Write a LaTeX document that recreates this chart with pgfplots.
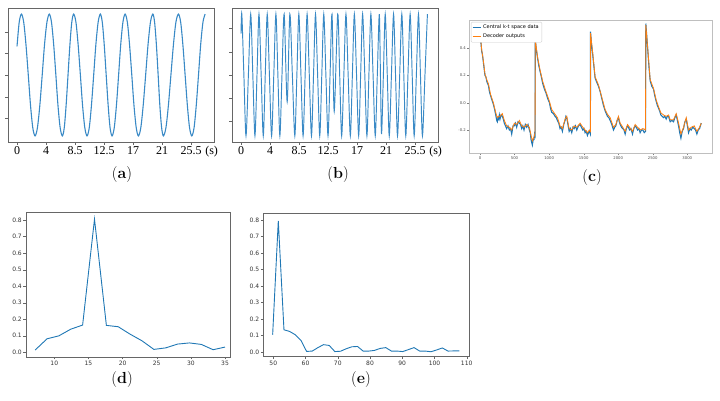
\documentclass[border=0pt]{standalone}
\usepackage{pgfplots}
\pgfplotsset{compat=1.18}
\usepackage{fontspec}
\newfontfamily\timesf{Liberation Serif}
\newfontfamily\dejavu{DejaVu Sans}
\definecolor{mplblue}{HTML}{1F77B4}
\definecolor{waveblue}{HTML}{3A8AC6}
\definecolor{mplorange}{HTML}{FF7F0E}
\newcommand\tl[1]{\mbox{\timesf\fontsize{12}{14}\selectfont #1}}

\pgfplotsset{
  panel/.style={scale only axis, anchor=south west, tick align=outside, tick pos=left,
    axis line style={black!60}, every tick/.append style={black!60},
    /pgf/number format/assume math mode=true},
  wave/.style={panel, width=206pt, height=134pt,
    xmin=-1.32, xmax=28.85, ymin=-1.1, ymax=1.1,
    xtick={0,4.25,8.5,12.75,17,21.25,25.5},
    xticklabels={\tl{0},\tl{4},\tl{8.5},\tl{12.5},\tl{17},\tl{21},\tl{25.5}},
    extra x ticks={28.5}, extra x tick labels={\tl{(s)}},
    extra x tick style={major tick length=0pt, xticklabel style={yshift=-3pt}},
    yticklabels={}, major tick length=3pt,
    xticklabel style={anchor=base, yshift=-9.5pt, inner sep=0pt}},
  spec/.style={panel, width=205pt, height=144pt, ymin=-0.028, ymax=0.844,
    ytick={0,0.1,0.2,0.3,0.4,0.5,0.6,0.7,0.8}, major tick length=2.5pt,
    tick label style={font=\dejavu\fontsize{6}{7}\selectfont, black!80, inner sep=1.5pt},
    yticklabel style={/pgf/number format/.cd, fixed, fixed zerofill, precision=1}},
}

\begin{document}
\begin{tikzpicture}
\useasboundingbox (0,0) rectangle (720pt,401pt);

% (a) slow wave
\begin{axis}[wave, at={(8pt,259pt)}, ytick={-0.71,-0.36,0,0.36,0.71}]
\addplot[waveblue, line width=1.1pt, smooth] coordinates {
 (0,0.47) (0.32,0.866) (0.65,1)
 (0.98,0.866) (1.31,0.5) (1.65,0) (1.98,-0.5) (2.31,-0.866) (2.64,-1)
 (2.99,-0.866) (3.34,-0.5) (3.69,0) (4.03,0.5) (4.38,0.866) (4.73,1)
 (5.05,0.866) (5.37,0.5) (5.69,0) (6.00,-0.5) (6.32,-0.866) (6.64,-1)
 (6.92,-0.866) (7.19,-0.5) (7.47,0) (7.75,0.5) (8.02,0.866) (8.30,1)
 (8.63,0.866) (8.95,0.5) (9.28,0) (9.60,-0.5) (9.93,-0.866) (10.25,-1)
 (10.58,-0.866) (10.90,-0.5) (11.23,0) (11.55,0.5) (11.88,0.866) (12.20,1)
 (12.49,0.866) (12.77,0.5) (13.06,0) (13.35,-0.5) (13.63,-0.866) (13.92,-1)
 (14.24,-0.866) (14.56,-0.5) (14.88,0) (15.19,0.5) (15.51,0.866) (15.83,1)
 (16.16,0.866) (16.48,0.5) (16.81,0) (17.13,-0.5) (17.46,-0.866) (17.78,-1)
 (18.13,-0.866) (18.48,-0.5) (18.84,0) (19.19,0.5) (19.54,0.866) (19.89,1)
 (20.15,0.866) (20.41,0.5) (20.67,0) (20.92,-0.5) (21.18,-0.866) (21.44,-1)
 (21.81,-0.866) (22.17,-0.5) (22.54,0) (22.91,0.5) (23.27,0.866) (23.64,1)
 (23.97,0.866) (24.29,0.5) (24.62,0) (24.95,-0.5) (25.27,-0.866) (25.60,-1)
 (25.93,-0.866) (26.25,-0.5) (26.58,0) (26.90,0.5) (27.23,0.866) (27.55,1)
};
\end{axis}

% (b) fast wave
\begin{axis}[wave, at={(232pt,259pt)}, ytick={-0.765,-0.383,0,0.383,0.765}]
\addplot[waveblue, line width=0.95pt, smooth] coordinates {
 (0,0.68) (0.12,1) (0.42,0) (0.73,-1) (1.08,0) (1.42,1) (1.73,0) (2.04,-1)
 (2.34,0) (2.63,1) (2.95,0) (3.26,-1) (3.55,0) (3.84,1) (4.16,0) (4.48,-1)
 (4.8,0) (5.11,1) (5.4,0) (5.69,-1) (6.0,0) (6.32,1) (6.76,-0.44) (7.15,1)
 (7.52,0) (7.88,-1) (8.18,0) (8.47,1) (8.78,0) (9.09,-1) (9.39,0) (9.68,1)
 (10.0,0) (10.32,-1) (10.62,0) (10.91,1) (11.22,0) (11.53,-1) (11.83,0) (12.12,1)
 (12.43,0) (12.74,-1) (13.04,0) (13.33,1) (13.65,-0.6) (14.16,1) (14.45,0) (14.74,-1)
 (15.06,0) (15.37,1) (15.69,0) (16.01,-1) (16.31,0) (16.6,1) (16.92,0) (17.23,-1)
 (17.52,0) (17.81,1) (18.13,0) (18.44,-1) (18.73,0) (19.02,1) (19.34,0) (19.66,-1)
 (19.96,0) (20.25,1) (20.42,0) (20.58,-0.97) (20.85,0) (21.12,1) (21.42,0) (21.71,-1)
 (22.03,0) (22.34,1) (22.63,0) (22.92,-1) (23.24,0) (23.55,1) (23.84,0) (24.13,-1)
 (24.45,0) (24.77,1) (25.07,0) (25.36,-1) (25.68,0) (25.99,1) (26.28,0) (26.57,-1)
 (26.94,0) (27.3,1)
};
\end{axis}

% (c) k-t space vs decoder
\begin{axis}[panel, at={(469pt,247.7pt)}, width=243pt, height=133.3pt,
  xmin=-159, xmax=3358, ymin=-0.371, ymax=0.606,
  xtick={0,500,1000,1500,2000,2500,3000}, ytick={-0.2,0,0.2,0.4},
  axis line style={black!25}, every tick/.append style={black!50}, major tick length=2pt,
  tick label style={font=\dejavu\fontsize{3.8}{4.2}\selectfont, black!70, inner sep=1pt},
  xticklabel style={/pgf/number format/1000 sep={}},
  yticklabel style={/pgf/number format/.cd, fixed, fixed zerofill, precision=1},
  legend style={at={(0.008,0.985)}, anchor=north west, draw=black!20, rounded corners=1pt,
    font=\dejavu\fontsize{5}{5.8}\selectfont, inner sep=1pt, row sep=-0.5pt},
  legend cell align=left,
  legend image code/.code={\draw[#1] (0pt,0pt) -- (8pt,0pt);}]
\addplot[mplblue, line width=1.1pt] coordinates {
 (0,0.53) (12,0.45) (24,0.38) (36,0.35) (48,0.30) (60,0.25) (72,0.20) (85,0.19) (97,0.16)
 (109,0.14) (121,0.13) (137,0.08) (154,0.05) (173,0.02) (193,-0.01) (212,-0.05) (232,-0.10)
 (242,-0.13) (251,-0.14) (260,-0.11) (270,-0.12) (280,-0.09) (290,-0.12) (305,-0.09) (323,-0.10)
 (338,-0.12) (352,-0.15) (369,-0.17) (386,-0.19) (405,-0.17) (425,-0.20) (442,-0.19) (459,-0.23)
 (478,-0.17) (497,-0.17) (514,-0.15) (531,-0.18) (550,-0.14) (570,-0.15) (587,-0.16) (604,-0.19)
 (620,-0.17) (637,-0.20) (656,-0.16) (676,-0.18) (695,-0.16) (715,-0.20) (728,-0.22) (739,-0.27)
 (748,-0.29) (758,-0.31) (770,-0.27) (782,-0.27) (790,-0.23) (797,-0.24) (800,0.47)
 (812,0.40) (835,0.32) (852,0.27) (869,0.23) (888,0.19) (908,0.14) (932,0.10) (956,0.07)
 (980,0.03) (1005,0.0) (1020,-0.04) (1038,-0.07) (1062,-0.08) (1087,-0.10) (1104,-0.11)
 (1121,-0.13) (1140,-0.15) (1159,-0.19) (1176,-0.18) (1193,-0.21) (1212,-0.16) (1232,-0.13)
 (1244,-0.10) (1256,-0.11) (1273,-0.16) (1290,-0.21) (1309,-0.19) (1328,-0.22) (1345,-0.18)
 (1362,-0.19) (1381,-0.17) (1401,-0.20) (1425,-0.17) (1449,-0.16) (1468,-0.18) (1488,-0.20)
 (1505,-0.19) (1521,-0.22) (1538,-0.21) (1555,-0.24) (1570,-0.22) (1584,-0.21) (1598,-0.23) (1600,0.52)
 (1612,0.44) (1632,0.35) (1650,0.26) (1666,0.18) (1690,0.15) (1715,0.12) (1740,0.08) (1763,0.03)
 (1787,-0.02) (1811,-0.06) (1828,-0.08) (1845,-0.10) (1865,-0.11) (1884,-0.13) (1908,-0.16)
 (1932,-0.20) (1950,-0.18) (1966,-0.17) (1985,-0.13) (2004,-0.11) (2016,-0.14) (2029,-0.16)
 (2048,-0.18) (2067,-0.19) (2084,-0.20) (2101,-0.23) (2118,-0.19) (2135,-0.17) (2150,-0.18)
 (2164,-0.20) (2185,-0.19) (2207,-0.23) (2226,-0.19) (2246,-0.17) (2263,-0.18) (2280,-0.20)
 (2300,-0.19) (2318,-0.22) (2338,-0.20) (2357,-0.20) (2377,-0.22) (2396,-0.21) (2400,0.58)
 (2412,0.50) (2429,0.38) (2446,0.26) (2463,0.16) (2487,0.12) (2511,0.10) (2530,0.05) (2550,0.01)
 (2567,-0.02) (2584,-0.04) (2600,-0.06) (2618,-0.09) (2637,-0.10) (2656,-0.11) (2675,-0.10)
 (2695,-0.12) (2712,-0.10) (2729,-0.10) (2741,-0.12) (2753,-0.14) (2777,-0.13) (2801,-0.14)
 (2820,-0.11) (2840,-0.09) (2857,-0.13) (2874,-0.17) (2891,-0.22) (2908,-0.26) (2927,-0.21)
 (2946,-0.19) (2965,-0.14) (2985,-0.12) (3002,-0.17) (3019,-0.22) (3038,-0.19) (3057,-0.20)
 (3079,-0.18) (3101,-0.19) (3120,-0.20) (3139,-0.23) (3158,-0.20) (3178,-0.19) (3190,-0.17) (3202,-0.15)
};
\addlegendentry{Central k-t space data}
\addplot[mplorange, line width=0.8pt] coordinates {
 (0,0.52) (24,0.39) (48,0.31) (72,0.21) (97,0.17) (121,0.14) (154,0.06) (193,0.0) (232,-0.08)
 (251,-0.11) (270,-0.10) (290,-0.10) (323,-0.08) (352,-0.13) (386,-0.17) (425,-0.18) (459,-0.20)
 (497,-0.15) (531,-0.16) (570,-0.13) (604,-0.17) (637,-0.18) (676,-0.16) (715,-0.18) (739,-0.24)
 (758,-0.28) (782,-0.25) (797,-0.22) (800,0.46)
 (835,0.33) (869,0.24) (908,0.155) (956,0.08) (1005,0.01) (1038,-0.05) (1087,-0.085) (1121,-0.11)
 (1159,-0.17) (1193,-0.19) (1232,-0.12) (1256,-0.10) (1290,-0.19) (1328,-0.20) (1362,-0.17)
 (1401,-0.18) (1449,-0.15) (1488,-0.18) (1521,-0.20) (1555,-0.22) (1584,-0.20) (1598,-0.21) (1600,0.51)
 (1632,0.36) (1666,0.19) (1715,0.13) (1763,0.04) (1811,-0.05) (1845,-0.085) (1884,-0.11) (1932,-0.18)
 (1966,-0.16) (2004,-0.10) (2029,-0.15) (2067,-0.18) (2101,-0.21) (2135,-0.16) (2164,-0.18)
 (2207,-0.21) (2246,-0.16) (2280,-0.18) (2318,-0.20) (2357,-0.19) (2396,-0.20) (2400,0.57)
 (2429,0.39) (2463,0.17) (2511,0.105) (2550,0.02) (2584,-0.03) (2618,-0.075) (2656,-0.09)
 (2695,-0.10) (2729,-0.09) (2753,-0.125) (2801,-0.125) (2840,-0.08) (2874,-0.15) (2908,-0.23)
 (2946,-0.18) (2985,-0.11) (3019,-0.2) (3057,-0.18) (3101,-0.17) (3139,-0.21) (3178,-0.18) (3202,-0.15)
};
\addlegendentry{Decoder outputs}
\end{axis}

% (d)
\begin{axis}[spec, at={(26pt,44pt)}, width=204pt, height=144.3pt,
  xmin=5.86, xmax=35.73, xtick={10,15,20,25,30,35}]
\addplot[mplblue, line width=0.9pt] coordinates {
 (7.2,0.014) (8.94,0.082) (10.68,0.10) (12.41,0.14) (14.15,0.165) (15.89,0.805)
 (17.63,0.163) (19.36,0.155) (21.1,0.11) (22.84,0.07) (24.58,0.018) (26.31,0.027)
 (28.05,0.05) (29.79,0.057) (31.53,0.048) (33.26,0.016) (35.0,0.032)
};
\end{axis}

% (e)
\begin{axis}[spec, at={(263.3pt,44.3pt)}, width=206pt, height=144pt,
  xmin=46.9, xmax=110.8, xtick={50,60,70,80,90,100,110}]
\addplot[mplblue, line width=0.9pt] coordinates {
 (49.80,0.105) (51.55,0.794) (53.31,0.135) (55.06,0.125) (56.82,0.105) (58.57,0.071)
 (60.33,0.004) (62.08,0.006) (63.84,0.027) (65.59,0.045) (67.35,0.04) (69.10,0.003)
 (70.85,0.005) (72.61,0.02) (74.36,0.032) (76.12,0.034) (77.87,0.006) (79.63,0.006)
 (81.38,0.01) (83.14,0.022) (84.89,0.027) (86.64,0.006) (88.40,0.006) (90.15,0.003)
 (91.91,0.015) (93.66,0.027) (95.42,0.006) (97.17,0.006) (98.93,0.002) (100.68,0.013)
 (102.44,0.025) (104.19,0.006) (105.95,0.007) (107.70,0.007)
};
\end{axis}

% panel letters
\begin{scope}[every node/.style={font=\fontsize{16}{18}\selectfont}]
\node at (122pt,226pt) {(\textbf{a})};
\node at (338pt,226pt) {(\textbf{b})};
\node at (592pt,223pt) {(\textbf{c})};
\node at (122pt,21pt) {(\textbf{d})};
\node at (361pt,21pt) {(\textbf{e})};
\end{scope}
\end{tikzpicture}
\end{document}
